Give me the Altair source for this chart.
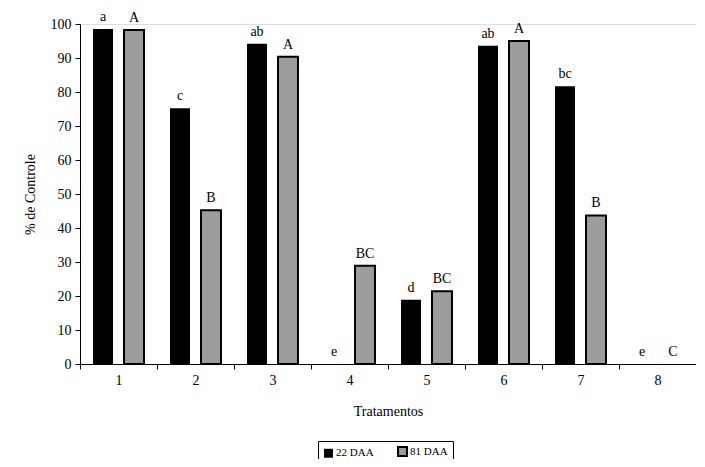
import altair as alt
import pandas as pd

categories = ["1", "2", "3", "4", "5", "6", "7", "8"]
series_names = ["22 DAA", "81 DAA"]
values_22 = [98.5, 75.2, 94.2, 0, 18.9, 93.6, 81.7, 0]
values_81 = [98.2, 45.2, 90.4, 28.9, 21.4, 95.0, 43.7, 0]
letters_22 = ["a", "c", "ab", "e", "d", "ab", "bc", "e"]
letters_81 = ["A", "B", "A", "BC", "BC", "A", "B", "C"]

rows = []
for i, c in enumerate(categories):
    rows.append({"trat": c, "serie": series_names[0], "valor": values_22[i], "letra": letters_22[i]})
    rows.append({"trat": c, "serie": series_names[1], "valor": values_81[i], "letra": letters_81[i]})
df = pd.DataFrame(rows)

FONT = "Liberation Serif"

x = alt.X("trat:N", title="Tratamentos", sort=categories,
          scale=alt.Scale(paddingInner=0, paddingOuter=0),
          axis=alt.Axis(labelAngle=0, tickBand="extent", tickSize=5, labelPadding=4,
                        titlePadding=17, domainColor="black", tickColor="black",
                        labelColor="black", titleColor="black", labelFont=FONT,
                        titleFont=FONT, labelFontSize=14, titleFontSize=14,
                        titleFontWeight="normal", grid=False))
xoff = alt.XOffset("serie:N", sort=series_names,
                   scale=alt.Scale(paddingInner=0.355, paddingOuter=0.42))
y = alt.Y("valor:Q", title="% de Controle",
          scale=alt.Scale(domain=[0, 100], nice=False),
          axis=alt.Axis(values=list(range(0, 101, 10)), tickCount=30, labelOverlap=False,
                        tickSize=5, labelPadding=4,
                        titlePadding=13, domainColor="black", tickColor="black",
                        labelColor="black", titleColor="black", labelFont=FONT,
                        titleFont=FONT, labelFontSize=14, titleFontSize=14,
                        titleFontWeight="normal", grid=False))

bars = alt.Chart(df).transform_filter("datum.valor > 0").mark_bar(stroke="black").encode(
    x=x, xOffset=xoff, y=y,
    fill=alt.Fill("serie:N", sort=series_names,
                  scale=alt.Scale(domain=series_names, range=["#000000", "#9c9c9c"]),
                  legend=alt.Legend(title=None, orient="none", legendX=238, legendY=417,
                                    direction="horizontal", symbolType="square",
                                    symbolSize=80, symbolStrokeColor="black",
                                    symbolStrokeWidth=1, labelFont=FONT,
                                    labelFontSize=11, labelColor="black",
                                    strokeColor="black", fillColor="white",
                                    padding=5, columnPadding=20, labelOffset=2)),
    strokeWidth=alt.StrokeWidth("serie:N", sort=series_names,
                                scale=alt.Scale(domain=series_names, range=[0, 2]),
                                legend=None),
)

text = alt.Chart(df).mark_text(baseline="alphabetic", dy=-8, font=FONT, fontSize=14,
                               color="black").encode(
    x=alt.X("trat:N", sort=categories), xOffset=alt.XOffset("serie:N", sort=series_names),
    y=y, text="letra:N")

chart = alt.layer(bars, text).properties(
    width=616, height=340,
    autosize=alt.AutoSizeParams(type="none"),
    padding={"left": 72, "top": 16, "right": 0, "bottom": 95},
).configure_view(stroke=None).configure(background="white")

chart.save("out.html", embed_options={"renderer": "svg", "actions": False})
